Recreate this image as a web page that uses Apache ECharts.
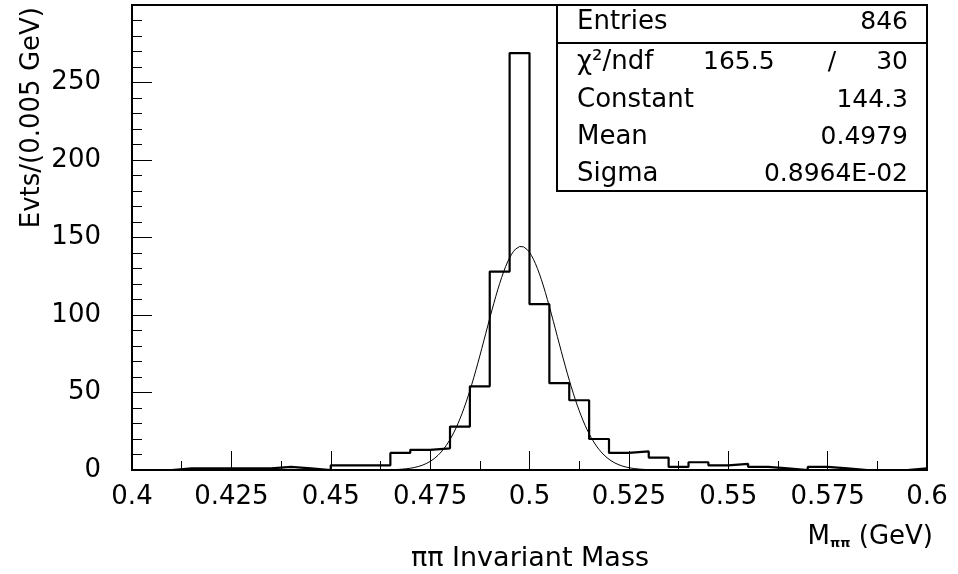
<!DOCTYPE html>
<html><head><meta charset="utf-8">
<script src="https://cdn.jsdelivr.net/npm/echarts@6/dist/echarts.min.js"></script>
<style>html,body{margin:0;padding:0;background:#fff}#c{width:958px;height:574px}</style>
</head><body><div id="c"></div>
<script>
// Histogram bin edges (GeV) and bin contents (events per 0.005 GeV)
const binEdges = [0.400,0.405,0.410,0.415,0.420,0.425,0.430,0.435,0.440,0.445,
                  0.450,0.455,0.460,0.465,0.470,0.475,0.480,0.485,0.490,0.495,
                  0.500,0.505,0.510,0.515,0.520,0.525,0.530,0.535,0.540,0.545,
                  0.550,0.555,0.560,0.565,0.570,0.575,0.580,0.585,0.590,0.595,0.600];
const counts = [0,0,1,1,1,1,1,2,1,0,
                3,3,3,11,13,14,28,54,128,269,
                107,56,45,20,11,12,8,2,5,3,
                4,2,1,0,2,1,0,0,0,1];
// Gaussian fit parameters (from the stats box)
const fitConstant = 144.3;
const fitMean = 0.4979;
const fitSigma = 0.008964;
const fitRange = [0.465, 0.535];
// Stats box
const statLabels = ['Entries', 'χ²/ndf', 'Constant', 'Mean', 'Sigma'];
const statValues = ['846', '30', '144.3', '0.4979', '0.8964E-02'];
const chiValue = '165.5';
// Axis texts
const xTitle = 'ππ Invariant Mass';
const xUnitMain = 'M', xUnitSub = 'ππ', xUnitTail = ' (GeV)';
const yTitle = 'Evts/(0.005 GeV)';

const FONT = 'DejaVu Sans';

const histData = counts.map((c, i) => [binEdges[i], c]);
histData.push([binEdges[binEdges.length - 1], counts[counts.length - 1]]);

const fitData = [];
const nFit = 140;
for (let k = 0; k <= nFit; k++) {
  const x = fitRange[0] + (fitRange[1] - fitRange[0]) * k / nFit;
  const z = (x - fitMean) / fitSigma;
  fitData.push([x, fitConstant * Math.exp(-0.5 * z * z)]);
}

const chart = echarts.init(document.getElementById('c'), null, {renderer: 'canvas'});

const boxL = 557, boxT = 5, boxR = 927, boxB = 191;
const rowY = [22, 62, 100, 137, 174];
const boxTexts = [];
statLabels.forEach((t, i) => {
  boxTexts.push({type: 'text', z: 101, style: {text: t, x: 577, y: rowY[i], fill: '#000',
    font: '26px "' + FONT + '"', align: 'left', verticalAlign: 'middle'}});
  boxTexts.push({type: 'text', z: 101, style: {text: statValues[i], x: 908, y: rowY[i], fill: '#000',
    font: '25px "' + FONT + '"', align: 'right', verticalAlign: 'middle'}});
});
boxTexts.push({type: 'text', z: 101, style: {text: chiValue, x: 703, y: rowY[1], fill: '#000',
  font: '25px "' + FONT + '"', align: 'left', verticalAlign: 'middle'}});
boxTexts.push({type: 'text', z: 101, style: {text: '/', x: 832, y: rowY[1], fill: '#000',
  font: '25px "' + FONT + '"', align: 'center', verticalAlign: 'middle'}});

chart.setOption({
  animation: false,
  backgroundColor: '#fff',
  grid: {left: 132, right: 31, top: 5, bottom: 104, show: true, borderColor: '#000', borderWidth: 2, backgroundColor: 'transparent'},
  xAxis: {
    type: 'value', min: 0.4, max: 0.6, interval: 0.025,
    axisLine: {show: true, lineStyle: {color: '#000', width: 2}},
    axisTick: {show: true, inside: true, length: 19, lineStyle: {color: '#000', width: 1}},
    minorTick: {show: true, splitNumber: 2, length: 9, lineStyle: {color: '#000', width: 1}},
    splitLine: {show: false},
    axisLabel: {show: true, margin: 14, color: '#000', fontFamily: FONT, fontSize: 26,
      formatter: v => String(parseFloat(v.toFixed(3)))}
  },
  yAxis: {
    type: 'value', min: 0, max: 300, interval: 50,
    axisLine: {show: true, lineStyle: {color: '#000', width: 2}},
    axisTick: {show: true, inside: true, length: 20, lineStyle: {color: '#000', width: 1}},
    minorTick: {show: true, splitNumber: 5, length: 10, lineStyle: {color: '#000', width: 1}},
    splitLine: {show: false},
    axisLabel: {show: true, margin: 31, color: '#000', fontFamily: FONT, fontSize: 26,
      formatter: v => (v >= 300 ? '' : String(v))}
  },
  series: [
    {type: 'line', data: histData, step: 'end', showSymbol: false, symbol: 'none',
      lineStyle: {color: '#000', width: 2.2}, z: 3},
    {type: 'line', data: fitData, smooth: false, showSymbol: false, symbol: 'none',
      lineStyle: {color: '#000', width: 1}, z: 4}
  ],
  graphic: [
    {type: 'rect', z: 100, shape: {x: boxL, y: boxT, width: boxR - boxL, height: boxB - boxT},
      style: {fill: '#fff', stroke: '#000', lineWidth: 2}},
    {type: 'line', z: 101, shape: {x1: boxL, y1: 43, x2: boxR, y2: 43},
      style: {stroke: '#000', lineWidth: 2}},
    ...boxTexts,
    {type: 'text', z: 101, x: 32, y: 7, rotation: Math.PI / 2,
      style: {text: yTitle, fill: '#000', font: '26px "' + FONT + '"', align: 'right', verticalAlign: 'middle'}},
    {type: 'text', z: 101, style: {text: xTitle, x: 530, y: 559, fill: '#000',
      font: '27px "' + FONT + '"', align: 'center', verticalAlign: 'middle'}},
    {type: 'text', z: 101, style: {x: 933, y: 537, align: 'right', verticalAlign: 'middle',
      text: '{m|' + xUnitMain + '}{s|' + xUnitSub + '}{m|' + xUnitTail + '}',
      rich: {
        m: {fontFamily: FONT, fontSize: 26, fill: '#000', color: '#000'},
        s: {fontFamily: FONT, fontSize: 13, fill: '#000', color: '#000', verticalAlign: 'bottom', fontWeight: 'bold'}
      }}}
  ]
});
</script></body></html>
